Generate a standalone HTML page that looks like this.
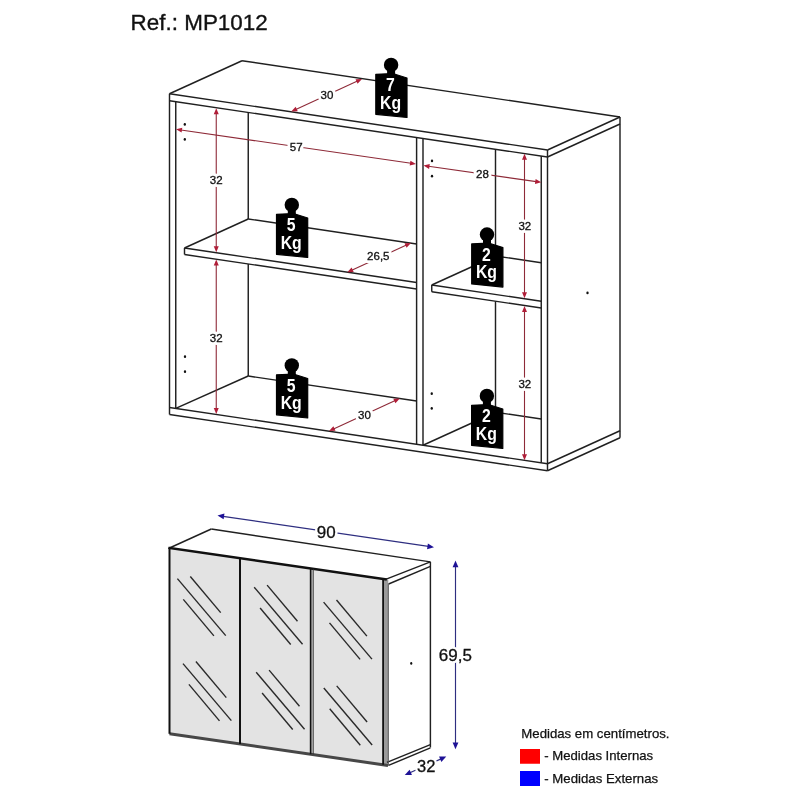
<!DOCTYPE html>
<html><head><meta charset="utf-8"><style>
html,body{margin:0;padding:0;background:#fff;}
svg{display:block;will-change:transform;}
text{font-family:"Liberation Sans", sans-serif;}
</style></head><body>
<svg width="800" height="800" viewBox="0 0 800 800">
<rect width="800" height="800" fill="#fff"/>
<line x1="169.50" y1="93.75" x2="242.00" y2="60.75" stroke="#202020" stroke-width="1.45" />
<line x1="242.00" y1="60.75" x2="620.00" y2="117.00" stroke="#202020" stroke-width="1.45" />
<line x1="547.50" y1="150.00" x2="620.00" y2="117.00" stroke="#202020" stroke-width="1.45" />
<line x1="169.50" y1="93.75" x2="547.50" y2="150.00" stroke="#202020" stroke-width="1.45" />
<line x1="169.50" y1="100.75" x2="547.50" y2="157.00" stroke="#202020" stroke-width="1.45" />
<line x1="547.50" y1="157.00" x2="620.00" y2="124.00" stroke="#202020" stroke-width="1.45" />
<line x1="620.00" y1="117.00" x2="620.00" y2="437.75" stroke="#202020" stroke-width="1.45" />
<line x1="169.50" y1="93.75" x2="169.50" y2="414.50" stroke="#202020" stroke-width="1.45" />
<line x1="547.50" y1="150.00" x2="547.50" y2="470.75" stroke="#202020" stroke-width="1.45" />
<line x1="169.50" y1="407.50" x2="547.50" y2="463.75" stroke="#202020" stroke-width="1.45" />
<line x1="169.50" y1="414.50" x2="547.50" y2="470.75" stroke="#202020" stroke-width="1.45" />
<line x1="547.50" y1="463.75" x2="620.00" y2="430.75" stroke="#202020" stroke-width="1.45" />
<line x1="547.50" y1="470.75" x2="620.00" y2="437.75" stroke="#202020" stroke-width="1.45" />
<line x1="175.75" y1="101.68" x2="175.75" y2="408.43" stroke="#202020" stroke-width="1.45" />
<line x1="541.25" y1="156.07" x2="541.25" y2="462.82" stroke="#202020" stroke-width="1.45" />
<line x1="416.60" y1="137.52" x2="416.60" y2="444.27" stroke="#202020" stroke-width="1.45" />
<line x1="423.00" y1="138.47" x2="423.00" y2="445.22" stroke="#202020" stroke-width="1.45" />
<line x1="248.25" y1="112.47" x2="248.25" y2="218.98" stroke="#202020" stroke-width="1.45" />
<line x1="248.25" y1="263.99" x2="248.25" y2="376.03" stroke="#202020" stroke-width="1.45" />
<line x1="175.75" y1="408.43" x2="248.25" y2="376.03" stroke="#202020" stroke-width="1.45" />
<line x1="248.25" y1="376.03" x2="416.60" y2="401.08" stroke="#202020" stroke-width="1.45" />
<line x1="184.50" y1="248.00" x2="416.60" y2="282.54" stroke="#202020" stroke-width="1.45" />
<line x1="184.50" y1="254.50" x2="416.60" y2="289.04" stroke="#202020" stroke-width="1.45" />
<line x1="184.50" y1="248.00" x2="184.50" y2="254.50" stroke="#202020" stroke-width="1.45" />
<line x1="184.50" y1="248.00" x2="248.25" y2="218.98" stroke="#202020" stroke-width="1.45" />
<line x1="248.25" y1="218.98" x2="416.60" y2="244.03" stroke="#202020" stroke-width="1.45" />
<line x1="495.50" y1="149.26" x2="495.50" y2="255.98" stroke="#202020" stroke-width="1.45" />
<line x1="495.50" y1="301.24" x2="495.50" y2="412.22" stroke="#202020" stroke-width="1.45" />
<line x1="423.00" y1="445.22" x2="495.50" y2="412.22" stroke="#202020" stroke-width="1.45" />
<line x1="495.50" y1="412.22" x2="541.25" y2="419.03" stroke="#202020" stroke-width="1.45" />
<line x1="431.75" y1="285.00" x2="541.25" y2="301.29" stroke="#202020" stroke-width="1.45" />
<line x1="431.75" y1="291.75" x2="541.25" y2="308.04" stroke="#202020" stroke-width="1.45" />
<line x1="431.75" y1="285.00" x2="431.75" y2="291.75" stroke="#202020" stroke-width="1.45" />
<line x1="431.75" y1="285.00" x2="495.50" y2="255.98" stroke="#202020" stroke-width="1.45" />
<line x1="495.50" y1="255.98" x2="541.25" y2="262.79" stroke="#202020" stroke-width="1.45" />
<ellipse cx="184.80" cy="124.40" rx="1.17" ry="1.46" fill="#111"/>
<ellipse cx="184.80" cy="139.40" rx="1.17" ry="1.46" fill="#111"/>
<ellipse cx="185.00" cy="356.65" rx="1.17" ry="1.46" fill="#111"/>
<ellipse cx="185.00" cy="371.65" rx="1.17" ry="1.46" fill="#111"/>
<ellipse cx="432.00" cy="160.90" rx="1.17" ry="1.46" fill="#111"/>
<ellipse cx="432.00" cy="176.15" rx="1.17" ry="1.46" fill="#111"/>
<ellipse cx="431.75" cy="393.65" rx="1.17" ry="1.46" fill="#111"/>
<ellipse cx="431.75" cy="408.40" rx="1.17" ry="1.46" fill="#111"/>
<ellipse cx="587.50" cy="292.90" rx="1.17" ry="1.46" fill="#111"/>
<line x1="295.79" y1="109.41" x2="357.46" y2="81.09" stroke="#8e2a38" stroke-width="1.1" />
<polygon points="291.25,111.50 295.66,106.72 297.75,111.27" fill="#b01e38" stroke="none" stroke-width="0"/>
<polygon points="362.00,79.00 357.59,83.78 355.50,79.23" fill="#b01e38" stroke="none" stroke-width="0"/>
<text x="327.00" y="99.12" font-size="11.5" fill="#fff" text-anchor="middle" stroke="#fff" stroke-width="6" stroke-linejoin="round">30</text>
<text x="327.00" y="99.12" font-size="11.5" fill="#111" text-anchor="middle" stroke="#111" stroke-width="0.3">30</text>
<line x1="180.95" y1="129.97" x2="411.05" y2="163.28" stroke="#8e2a38" stroke-width="1.1" />
<polygon points="176.00,129.25 182.30,127.64 181.58,132.58" fill="#b01e38" stroke="none" stroke-width="0"/>
<polygon points="416.00,164.00 409.70,165.61 410.42,160.67" fill="#b01e38" stroke="none" stroke-width="0"/>
<text x="296.25" y="151.12" font-size="11.5" fill="#fff" text-anchor="middle" stroke="#fff" stroke-width="6" stroke-linejoin="round">57</text>
<text x="296.25" y="151.12" font-size="11.5" fill="#111" text-anchor="middle" stroke="#111" stroke-width="0.3">57</text>
<line x1="428.45" y1="166.30" x2="536.25" y2="181.60" stroke="#8e2a38" stroke-width="1.1" />
<polygon points="423.50,165.60 429.79,163.97 429.09,168.92" fill="#b01e38" stroke="none" stroke-width="0"/>
<polygon points="541.20,182.30 534.91,183.93 535.61,178.98" fill="#b01e38" stroke="none" stroke-width="0"/>
<text x="482.50" y="178.37" font-size="11.5" fill="#fff" text-anchor="middle" stroke="#fff" stroke-width="6" stroke-linejoin="round">28</text>
<text x="482.50" y="178.37" font-size="11.5" fill="#111" text-anchor="middle" stroke="#111" stroke-width="0.3">28</text>
<line x1="216.25" y1="113.20" x2="216.25" y2="247.30" stroke="#8e2a38" stroke-width="1.1" />
<polygon points="216.25,108.20 218.75,114.20 213.75,114.20" fill="#b01e38" stroke="none" stroke-width="0"/>
<polygon points="216.25,252.30 213.75,246.30 218.75,246.30" fill="#b01e38" stroke="none" stroke-width="0"/>
<text x="216.25" y="184.12" font-size="11.5" fill="#fff" text-anchor="middle" stroke="#fff" stroke-width="6" stroke-linejoin="round">32</text>
<text x="216.25" y="184.12" font-size="11.5" fill="#111" text-anchor="middle" stroke="#111" stroke-width="0.3">32</text>
<line x1="216.25" y1="264.40" x2="216.25" y2="408.90" stroke="#8e2a38" stroke-width="1.1" />
<polygon points="216.25,259.40 218.75,265.40 213.75,265.40" fill="#b01e38" stroke="none" stroke-width="0"/>
<polygon points="216.25,413.90 213.75,407.90 218.75,407.90" fill="#b01e38" stroke="none" stroke-width="0"/>
<text x="216.25" y="341.62" font-size="11.5" fill="#fff" text-anchor="middle" stroke="#fff" stroke-width="6" stroke-linejoin="round">32</text>
<text x="216.25" y="341.62" font-size="11.5" fill="#111" text-anchor="middle" stroke="#111" stroke-width="0.3">32</text>
<line x1="524.50" y1="158.80" x2="524.50" y2="293.30" stroke="#8e2a38" stroke-width="1.1" />
<polygon points="524.50,153.80 527.00,159.80 522.00,159.80" fill="#b01e38" stroke="none" stroke-width="0"/>
<polygon points="524.50,298.30 522.00,292.30 527.00,292.30" fill="#b01e38" stroke="none" stroke-width="0"/>
<text x="524.85" y="230.22" font-size="11.5" fill="#fff" text-anchor="middle" stroke="#fff" stroke-width="6" stroke-linejoin="round">32</text>
<text x="524.85" y="230.22" font-size="11.5" fill="#111" text-anchor="middle" stroke="#111" stroke-width="0.3">32</text>
<line x1="524.50" y1="310.90" x2="524.50" y2="455.30" stroke="#8e2a38" stroke-width="1.1" />
<polygon points="524.50,305.90 527.00,311.90 522.00,311.90" fill="#b01e38" stroke="none" stroke-width="0"/>
<polygon points="524.50,460.30 522.00,454.30 527.00,454.30" fill="#b01e38" stroke="none" stroke-width="0"/>
<text x="524.85" y="387.87" font-size="11.5" fill="#fff" text-anchor="middle" stroke="#fff" stroke-width="6" stroke-linejoin="round">32</text>
<text x="524.85" y="387.87" font-size="11.5" fill="#111" text-anchor="middle" stroke="#111" stroke-width="0.3">32</text>
<line x1="351.74" y1="270.21" x2="406.46" y2="245.09" stroke="#8e2a38" stroke-width="1.1" />
<polygon points="347.20,272.30 351.61,267.52 353.70,272.07" fill="#b01e38" stroke="none" stroke-width="0"/>
<polygon points="411.00,243.00 406.59,247.78 404.50,243.23" fill="#b01e38" stroke="none" stroke-width="0"/>
<text x="378.30" y="260.42" font-size="11.5" fill="#fff" text-anchor="middle" stroke="#fff" stroke-width="6" stroke-linejoin="round">26,5</text>
<text x="378.30" y="260.42" font-size="11.5" fill="#111" text-anchor="middle" stroke="#111" stroke-width="0.3">26,5</text>
<line x1="333.54" y1="429.01" x2="395.26" y2="400.59" stroke="#8e2a38" stroke-width="1.1" />
<polygon points="329.00,431.10 333.40,426.32 335.50,430.86" fill="#b01e38" stroke="none" stroke-width="0"/>
<polygon points="399.80,398.50 395.40,403.28 393.30,398.74" fill="#b01e38" stroke="none" stroke-width="0"/>
<text x="364.50" y="419.12" font-size="11.5" fill="#fff" text-anchor="middle" stroke="#fff" stroke-width="6" stroke-linejoin="round">30</text>
<text x="364.50" y="419.12" font-size="11.5" fill="#111" text-anchor="middle" stroke="#111" stroke-width="0.3">30</text>
<circle cx="391.10" cy="64.90" r="7.2" fill="#000"/>
<rect x="387.10" y="67.50" width="8" height="8" fill="#000"/>
<polygon points="375.80,74.30 387.10,73.80 395.10,74.20 407.00,78.00 407.00,117.50 375.80,114.30" fill="#000" stroke="#000" stroke-width="1.2" stroke-linejoin="round"/>
<text transform="translate(390.50,91.10) scale(1,1.13)" font-size="15.8" font-weight="bold" fill="#fff" text-anchor="middle">7</text>
<text transform="translate(390.50,108.80) scale(1,1.13)" font-size="15.8" font-weight="bold" fill="#fff" text-anchor="middle">Kg</text>
<circle cx="291.80" cy="204.90" r="7.2" fill="#000"/>
<rect x="287.80" y="207.50" width="8" height="8" fill="#000"/>
<polygon points="276.50,214.30 287.80,213.80 295.80,214.20 307.70,218.00 307.70,257.50 276.50,254.30" fill="#000" stroke="#000" stroke-width="1.2" stroke-linejoin="round"/>
<text transform="translate(291.20,231.10) scale(1,1.13)" font-size="15.8" font-weight="bold" fill="#fff" text-anchor="middle">5</text>
<text transform="translate(291.20,248.80) scale(1,1.13)" font-size="15.8" font-weight="bold" fill="#fff" text-anchor="middle">Kg</text>
<circle cx="487.00" cy="234.50" r="7.2" fill="#000"/>
<rect x="483.00" y="237.10" width="8" height="8" fill="#000"/>
<polygon points="471.70,243.90 483.00,243.40 491.00,243.80 502.90,247.60 502.90,287.10 471.70,283.90" fill="#000" stroke="#000" stroke-width="1.2" stroke-linejoin="round"/>
<text transform="translate(486.40,260.70) scale(1,1.13)" font-size="15.8" font-weight="bold" fill="#fff" text-anchor="middle">2</text>
<text transform="translate(486.40,278.40) scale(1,1.13)" font-size="15.8" font-weight="bold" fill="#fff" text-anchor="middle">Kg</text>
<circle cx="291.80" cy="365.40" r="7.2" fill="#000"/>
<rect x="287.80" y="368.00" width="8" height="8" fill="#000"/>
<polygon points="276.50,374.80 287.80,374.30 295.80,374.70 307.70,378.50 307.70,418.00 276.50,414.80" fill="#000" stroke="#000" stroke-width="1.2" stroke-linejoin="round"/>
<text transform="translate(291.20,391.60) scale(1,1.13)" font-size="15.8" font-weight="bold" fill="#fff" text-anchor="middle">5</text>
<text transform="translate(291.20,409.30) scale(1,1.13)" font-size="15.8" font-weight="bold" fill="#fff" text-anchor="middle">Kg</text>
<circle cx="486.90" cy="395.90" r="7.2" fill="#000"/>
<rect x="482.90" y="398.50" width="8" height="8" fill="#000"/>
<polygon points="471.60,405.30 482.90,404.80 490.90,405.20 502.80,409.00 502.80,448.50 471.60,445.30" fill="#000" stroke="#000" stroke-width="1.2" stroke-linejoin="round"/>
<text transform="translate(486.30,422.10) scale(1,1.13)" font-size="15.8" font-weight="bold" fill="#fff" text-anchor="middle">2</text>
<text transform="translate(486.30,439.80) scale(1,1.13)" font-size="15.8" font-weight="bold" fill="#fff" text-anchor="middle">Kg</text>
<polygon points="169.50,548.00 211.30,529.00 430.40,561.90 385.60,579.33" fill="#fff" stroke="none" stroke-width="0"/>
<polygon points="385.60,579.33 430.40,561.90 430.40,747.50 388.00,765.48" fill="#fff" stroke="none" stroke-width="0"/>
<polygon points="169.50,548.00 383.50,579.03 383.50,764.83 169.50,733.80" fill="#e3e3e3" stroke="none" stroke-width="0"/>
<polygon points="311.00,568.52 313.50,568.88 313.50,754.68 311.00,754.32" fill="#b5b5b5" stroke="none" stroke-width="0"/>
<polygon points="383.50,579.03 388.30,579.73 388.30,765.53 383.50,764.83" fill="#9a9a9a" stroke="none" stroke-width="0"/>
<line x1="177.40" y1="578.60" x2="225.75" y2="635.60" stroke="#2a2a2a" stroke-width="1.4" />
<line x1="190.30" y1="576.50" x2="220.70" y2="612.60" stroke="#2a2a2a" stroke-width="1.4" />
<line x1="183.30" y1="599.40" x2="213.90" y2="635.90" stroke="#2a2a2a" stroke-width="1.4" />
<line x1="183.00" y1="663.60" x2="231.35" y2="720.60" stroke="#2a2a2a" stroke-width="1.4" />
<line x1="195.90" y1="661.50" x2="226.30" y2="697.60" stroke="#2a2a2a" stroke-width="1.4" />
<line x1="188.90" y1="684.40" x2="219.50" y2="720.90" stroke="#2a2a2a" stroke-width="1.4" />
<line x1="254.20" y1="587.20" x2="302.55" y2="644.20" stroke="#2a2a2a" stroke-width="1.4" />
<line x1="267.10" y1="585.10" x2="297.50" y2="621.20" stroke="#2a2a2a" stroke-width="1.4" />
<line x1="260.10" y1="608.00" x2="290.70" y2="644.50" stroke="#2a2a2a" stroke-width="1.4" />
<line x1="256.20" y1="672.20" x2="304.55" y2="729.20" stroke="#2a2a2a" stroke-width="1.4" />
<line x1="269.10" y1="670.10" x2="299.50" y2="706.20" stroke="#2a2a2a" stroke-width="1.4" />
<line x1="262.10" y1="693.00" x2="292.70" y2="729.50" stroke="#2a2a2a" stroke-width="1.4" />
<line x1="323.60" y1="602.10" x2="371.95" y2="659.10" stroke="#2a2a2a" stroke-width="1.4" />
<line x1="336.50" y1="600.00" x2="366.90" y2="636.10" stroke="#2a2a2a" stroke-width="1.4" />
<line x1="329.50" y1="622.90" x2="360.10" y2="659.40" stroke="#2a2a2a" stroke-width="1.4" />
<line x1="323.80" y1="688.00" x2="372.15" y2="745.00" stroke="#2a2a2a" stroke-width="1.4" />
<line x1="336.70" y1="685.90" x2="367.10" y2="722.00" stroke="#2a2a2a" stroke-width="1.4" />
<line x1="329.70" y1="708.80" x2="360.30" y2="745.30" stroke="#2a2a2a" stroke-width="1.4" />
<line x1="169.50" y1="548.00" x2="211.30" y2="529.00" stroke="#202020" stroke-width="1.45" />
<line x1="211.30" y1="529.00" x2="430.40" y2="561.90" stroke="#202020" stroke-width="1.45" />
<line x1="385.60" y1="579.33" x2="430.40" y2="561.90" stroke="#202020" stroke-width="1.45" />
<line x1="388.60" y1="584.00" x2="430.40" y2="566.30" stroke="#202020" stroke-width="1.45" />
<line x1="430.40" y1="561.90" x2="430.40" y2="747.50" stroke="#202020" stroke-width="1.45" />
<line x1="386.90" y1="762.40" x2="430.40" y2="744.60" stroke="#202020" stroke-width="1.45" />
<line x1="388.50" y1="765.40" x2="430.40" y2="747.80" stroke="#202020" stroke-width="1.45" />
<line x1="169.50" y1="548.00" x2="385.60" y2="579.33" stroke="#111" stroke-width="2.4" stroke-linecap="square"/>
<line x1="169.50" y1="733.80" x2="388.00" y2="765.48" stroke="#474747" stroke-width="3.0" />
<line x1="169.50" y1="548.00" x2="169.50" y2="733.80" stroke="#111" stroke-width="2.0" />
<line x1="240.00" y1="558.22" x2="240.00" y2="744.02" stroke="#111" stroke-width="2.0" />
<line x1="310.60" y1="568.46" x2="310.60" y2="754.26" stroke="#111" stroke-width="1.6" />
<line x1="313.30" y1="568.85" x2="313.30" y2="754.65" stroke="#333" stroke-width="0.8" />
<line x1="383.10" y1="578.97" x2="383.10" y2="764.77" stroke="#111" stroke-width="1.8" />
<line x1="388.30" y1="583.73" x2="388.30" y2="765.53" stroke="#555" stroke-width="1.0" />
<ellipse cx="411.25" cy="663.40" rx="1.08" ry="1.34" fill="#111"/>
<line x1="223.04" y1="516.31" x2="428.46" y2="546.44" stroke="#2e2e80" stroke-width="1.15" />
<polygon points="217.50,515.50 224.45,513.59 223.61,519.33" fill="#1e1296" stroke="none" stroke-width="0"/>
<polygon points="434.00,547.25 427.05,549.16 427.89,543.42" fill="#1e1296" stroke="none" stroke-width="0"/>
<text x="326.25" y="537.89" font-size="17" fill="#fff" text-anchor="middle" stroke="#fff" stroke-width="5" stroke-linejoin="round">90</text>
<text x="326.25" y="537.89" font-size="17" fill="#111" text-anchor="middle" stroke="#111" stroke-width="0.3">90</text>
<line x1="455.50" y1="566.20" x2="455.50" y2="743.60" stroke="#2e2e80" stroke-width="1.15" />
<polygon points="455.50,560.60 458.40,567.20 452.60,567.20" fill="#1e1296" stroke="none" stroke-width="0"/>
<polygon points="455.50,749.20 452.60,742.60 458.40,742.60" fill="#1e1296" stroke="none" stroke-width="0"/>
<text x="455.30" y="660.69" font-size="17" fill="#fff" text-anchor="middle" stroke="#fff" stroke-width="5" stroke-linejoin="round">69,5</text>
<text x="455.30" y="660.69" font-size="17" fill="#111" text-anchor="middle" stroke="#111" stroke-width="0.3">69,5</text>
<line x1="409.87" y1="772.73" x2="441.13" y2="758.87" stroke="#2e2e80" stroke-width="1.15" />
<polygon points="404.75,775.00 409.61,769.67 411.96,774.98" fill="#1e1296" stroke="none" stroke-width="0"/>
<polygon points="446.25,756.60 441.39,761.93 439.04,756.62" fill="#1e1296" stroke="none" stroke-width="0"/>
<text x="426.20" y="771.71" font-size="16.5" fill="#fff" text-anchor="middle" stroke="#fff" stroke-width="5" stroke-linejoin="round">32</text>
<text x="426.20" y="771.71" font-size="16.5" fill="#111" text-anchor="middle" stroke="#111" stroke-width="0.3">32</text>
<text x="130.6" y="30.2" font-size="22" fill="#111" stroke="#111" stroke-width="0.35" textLength="137.2" lengthAdjust="spacingAndGlyphs">Ref.: MP1012</text>
<text x="521.30" y="738.30" font-size="13" fill="#111" stroke="#111" stroke-width="0.25" textLength="148.2" lengthAdjust="spacingAndGlyphs">Medidas em centímetros.</text>
<polygon points="520.00,749.00 540.00,749.00 540.00,763.75 520.00,763.75" fill="#ff0000" stroke="none" stroke-width="0"/>
<text x="544.30" y="760.30" font-size="13" fill="#111" stroke="#111" stroke-width="0.25" textLength="108.8" lengthAdjust="spacingAndGlyphs">- Medidas Internas</text>
<polygon points="520.00,771.00 540.00,771.00 540.00,786.00 520.00,786.00" fill="#0000ff" stroke="none" stroke-width="0"/>
<text x="544.30" y="782.80" font-size="13" fill="#111" stroke="#111" stroke-width="0.25" textLength="113.8" lengthAdjust="spacingAndGlyphs">- Medidas Externas</text>
</svg>
</body></html>
